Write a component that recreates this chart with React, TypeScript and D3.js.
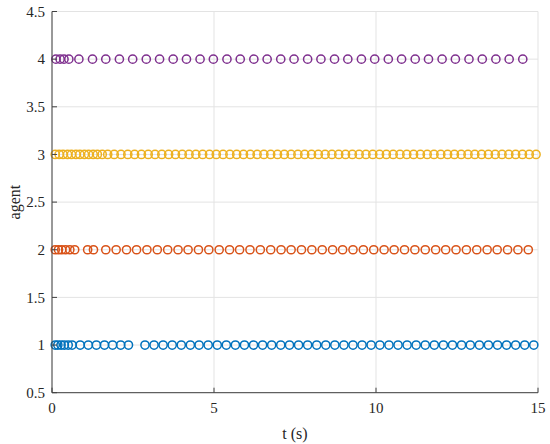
import React from "react";
import * as d3 from "d3";

const agents = [1, 2, 3, 4];
const agentColors = ["#0072BD", "#D95319", "#EDB120", "#7E2F8E"];

const agent1Times = [0.1, 0.18, 0.28, 0.38, 0.5, 0.62, 0.87, 1.12, 1.37, 1.62, 1.87, 2.12, 2.36,
  2.87, 3.15, 3.43, 3.71, 3.99, 4.27, 4.54, 4.82, 5.1, 5.38, 5.66, 5.94, 6.22, 6.5, 6.78, 7.06,
  7.33, 7.61, 7.89, 8.17, 8.45, 8.73, 9.01, 9.29, 9.57, 9.85, 10.12, 10.4, 10.68, 10.96, 11.24,
  11.52, 11.8, 12.08, 12.36, 12.64, 12.91, 13.19, 13.47, 13.75, 14.03, 14.31, 14.59, 14.87];
const agent2Times = [0.1, 0.2, 0.3, 0.42, 0.55, 0.7, 1.1, 1.28,
  1.66, 1.98, 2.3, 2.61, 2.93, 3.25, 3.57, 3.89, 4.2, 4.52, 4.84, 5.16, 5.48, 5.79, 6.11, 6.43,
  6.75, 7.07, 7.38, 7.7, 8.02, 8.34, 8.66, 8.97, 9.29, 9.61, 9.93, 10.25, 10.56, 10.88, 11.2,
  11.52, 11.84, 12.15, 12.47, 12.79, 13.11, 13.43, 13.74, 14.06, 14.38, 14.7];
const agent3Times = [0.1, 0.22, 0.34, 0.48, 0.6, 0.74, 0.86, 1.0, 1.13, 1.27, 1.4, 1.55, 1.72,
  1.92, 2.13, 2.34, 2.55, 2.76, 2.97, 3.18, 3.39, 3.6, 3.81, 4.02, 4.23, 4.44, 4.65, 4.86, 5.07,
  5.28, 5.49, 5.7, 5.91, 6.12, 6.33, 6.54, 6.75, 6.96, 7.17, 7.38, 7.59, 7.8, 8.01, 8.22, 8.43,
  8.64, 8.85, 9.06, 9.27, 9.48, 9.69, 9.9, 10.11, 10.32, 10.53, 10.74, 10.95, 11.16, 11.37,
  11.58, 11.79, 12.0, 12.21, 12.42, 12.63, 12.84, 13.05, 13.26, 13.47, 13.68, 13.89, 14.1,
  14.31, 14.52, 14.73, 14.94];
const agent4Times = [0.12, 0.25, 0.37, 0.52,
  0.83, 1.25, 1.66, 2.08, 2.49, 2.91, 3.32, 3.74, 4.15, 4.57, 4.98, 5.4, 5.81, 6.23, 6.64,
  7.06, 7.47, 7.89, 8.3, 8.72, 9.13, 9.55, 9.96, 10.38, 10.79, 11.21, 11.62, 12.04, 12.45,
  12.87, 13.28, 13.7, 14.11, 14.53];

const agentTimes = [agent1Times, agent2Times, agent3Times, agent4Times];

const xTicks = [0, 5, 10, 15];
const yTicks = [0.5, 1, 1.5, 2, 2.5, 3, 3.5, 4, 4.5];
const xLabel = "t (s)";
const yLabel = "agent";

export default function App() {
  const W = 550, H = 444;
  const left = 52, right = 538, top = 11.5, bottom = 392.7;
  const x = d3.scaleLinear().domain([0, 15]).range([left, right]);
  const y = d3.scaleLinear().domain([0.5, 4.5]).range([bottom, top]);
  const font = "'Liberation Serif', 'Times New Roman', serif";
  const axisColor = "#404040";
  const gridColor = "#e3e3e3";
  const tickLen = 5;

  return (
    <svg width={W} height={H} style={{ position: "absolute", left: 0, top: 0, background: "#fff" }}
      fontFamily={font}>
      <rect x={0} y={0} width={W} height={H} fill="#fff" />
      {xTicks.map((t) => (
        <line key={"gx" + t} x1={x(t)} x2={x(t)} y1={top} y2={bottom} stroke={gridColor} strokeWidth={1} />
      ))}
      {yTicks.map((t) => (
        <line key={"gy" + t} x1={left} x2={right} y1={y(t)} y2={y(t)} stroke={gridColor} strokeWidth={1} />
      ))}
      {agentTimes.map((times, i) => (
        <g key={"a" + i}>
          {times.map((t, j) => (
            <circle key={j} cx={x(t)} cy={y(agents[i])} r={4.1} fill="none"
              stroke={agentColors[i]} strokeWidth={1.5} />
          ))}
        </g>
      ))}
      <line x1={left} x2={left} y1={top} y2={bottom} stroke={axisColor} strokeWidth={1} />
      <line x1={left} x2={right} y1={bottom} y2={bottom} stroke={axisColor} strokeWidth={1} />
      {yTicks.map((t) => (
        <g key={"yt" + t}>
          <line x1={left} x2={left + tickLen} y1={y(t)} y2={y(t)} stroke={axisColor} strokeWidth={1} />
          <text x={left - 7} y={y(t)} dy="0.35em" textAnchor="end" fontSize={15} fill="#262626">
            {d3.format("")(t)}
          </text>
        </g>
      ))}
      {xTicks.map((t) => (
        <g key={"xt" + t}>
          <line x1={x(t)} x2={x(t)} y1={bottom} y2={bottom - tickLen} stroke={axisColor} strokeWidth={1} />
          <text x={x(t)} y={408} dy="0.35em" textAnchor="middle" fontSize={15} fill="#262626">
            {t}
          </text>
        </g>
      ))}
      <text x={(left + right) / 2} y={433} dy="0.35em" textAnchor="middle" fontSize={16} fill="#262626">
        {xLabel}
      </text>
      <text transform={`translate(14, ${(top + bottom) / 2}) rotate(-90)`} dy="0.35em"
        textAnchor="middle" fontSize={16} fill="#262626">
        {yLabel}
      </text>
    </svg>
  );
}
